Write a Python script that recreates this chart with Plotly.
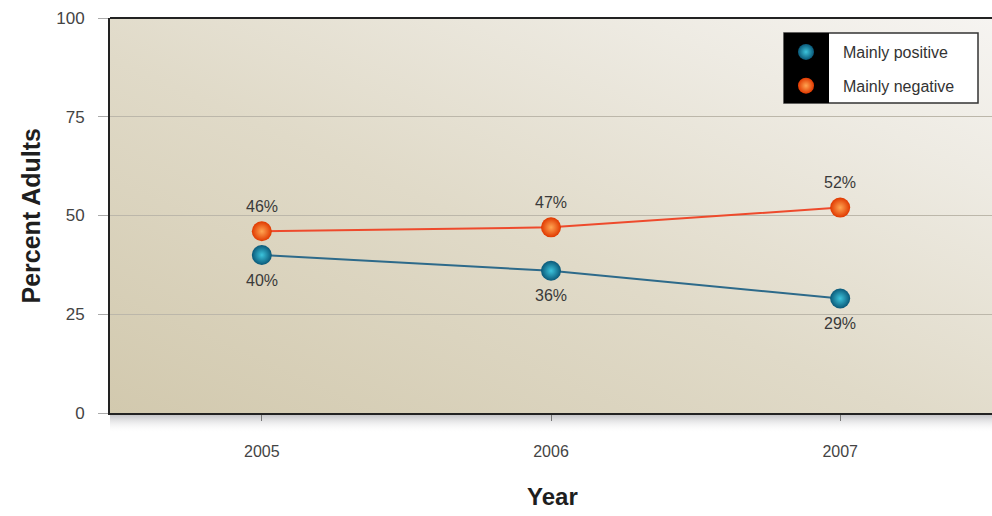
import base64
import plotly.graph_objects as go

years = [2005, 2006, 2007]
positive = [40, 36, 29]
negative = [46, 47, 52]
series_names = ["Mainly positive", "Mainly negative"]
y_ticks = [0, 25, 50, 75, 100]

def svg_uri(svg):
    return "data:image/svg+xml;base64," + base64.b64encode(svg.encode()).decode()

bg_svg = (
    '<svg xmlns="http://www.w3.org/2000/svg" width="880" height="395" preserveAspectRatio="none">'
    '<defs><linearGradient id="g" x1="0" y1="1" x2="1" y2="0">'
    '<stop offset="0" stop-color="#d2c9ae"/>'
    '<stop offset="0.45" stop-color="#e0dac8"/>'
    '<stop offset="0.8" stop-color="#eeebe3"/>'
    '<stop offset="1" stop-color="#f6f4f1"/>'
    '</linearGradient></defs>'
    '<rect width="880" height="395" fill="url(#g)"/></svg>'
)
shadow_svg = (
    '<svg xmlns="http://www.w3.org/2000/svg" width="880" height="20" preserveAspectRatio="none">'
    '<defs><linearGradient id="s" x1="0" y1="0" x2="0" y2="1">'
    '<stop offset="0" stop-color="#b8b8bc"/>'
    '<stop offset="1" stop-color="#ffffff" stop-opacity="0"/>'
    '</linearGradient></defs>'
    '<rect width="880" height="20" fill="url(#s)"/></svg>'
)

fig = go.Figure()

teal_edge, teal_center = "#0a5878", "#3cc4dc"
orange_edge, orange_center = "#e03800", "#ffa552"
label_font = dict(family="Arial, Liberation Sans", size=16, color="#3a3a3a")

fig.add_trace(go.Scatter(
    x=years, y=positive, mode="lines+markers", name=series_names[0],
    line=dict(color="#2d6a8a", width=2),
    marker=dict(size=20, color=teal_edge, gradient=dict(type="radial", color=teal_center)),
    showlegend=False, cliponaxis=False,
))
fig.add_trace(go.Scatter(
    x=years, y=negative, mode="lines+markers", name=series_names[1],
    line=dict(color="#ee4a2c", width=2),
    marker=dict(size=20, color=orange_edge, gradient=dict(type="radial", color=orange_center)),
    showlegend=False, cliponaxis=False,
))
# legend entries
fig.add_trace(go.Scatter(
    x=[None], y=[None], mode="markers", name=series_names[0], legendgroup="a",
    marker=dict(size=19, color=teal_edge, gradient=dict(type="radial", color=teal_center)),
))
fig.add_trace(go.Scatter(
    x=[None], y=[None], mode="markers", name=series_names[1], legendgroup="b",
    marker=dict(size=19, color=orange_edge, gradient=dict(type="radial", color=orange_center)),
))

annotations = []
for yr, v in zip(years, positive):
    annotations.append(dict(x=yr, y=v, xref="x", yref="y", text=f"{v}%", showarrow=False,
                            yshift=-25, font=label_font))
for yr, v in zip(years, negative):
    annotations.append(dict(x=yr, y=v, xref="x", yref="y", text=f"{v}%", showarrow=False,
                            yshift=25, font=label_font))

W, H = 992, 516
L, R, T, B = 110, 0, 18, 103
pw, ph = W - L - R, H - T - B

def px_x(x):
    return (x - L) / pw

def px_y(y):
    return (H - B - y) / ph

annotations += [
    dict(text="<b>Percent Adults</b>", xref="paper", yref="paper",
         x=px_x(30), y=0.5, textangle=-90, showarrow=False,
         font=dict(size=25, color="#1e1e1e"), xanchor="center", yanchor="middle"),
    dict(text="<b>Year</b>", xref="paper", yref="paper",
         x=px_x(552), y=px_y(496), showarrow=False,
         font=dict(size=24, color="#1e1e1e"), xanchor="center", yanchor="middle"),
]

fig.update_layout(
    width=W, height=H,
    margin=dict(l=L, r=R, t=T, b=B),
    paper_bgcolor="white",
    plot_bgcolor="rgba(0,0,0,0)",
    font=dict(family="Arial, Liberation Sans", color="#333333"),
    xaxis=dict(
        range=[years[0] - 0.525, years[-1] + 0.525], tickvals=years,
        showgrid=False, zeroline=False,
        showline=True, linecolor="#222222", linewidth=2,
        ticks="outside", ticklen=6, tickcolor="#777777",
        ticklabelstandoff=17,
        tickfont=dict(size=16, color="#444444"),
    ),
    yaxis=dict(
        range=[0, 100], tickvals=y_ticks,
        showgrid=True, gridcolor="#bcb7aa", gridwidth=1,
        zeroline=False,
        showline=True, linecolor="#222222", linewidth=2,
        ticks="outside", ticklen=10, tickcolor="#aaaaaa",
        ticklabelstandoff=10,
        tickfont=dict(size=17, color="#444444"),
    ),
    legend=dict(
        x=px_x(769), y=px_y(35), xanchor="left", yanchor="top",
        bgcolor="rgba(0,0,0,0)", borderwidth=0,
        font=dict(size=16, color="#333333", family="Arial, Liberation Sans"),
        tracegroupgap=10, itemsizing="trace", itemwidth=64,
    ),
    images=[
        dict(source=svg_uri(bg_svg), xref="paper", yref="paper", x=0, y=1,
             sizex=1, sizey=1, sizing="stretch", layer="below",
             xanchor="left", yanchor="top"),
        dict(source=svg_uri(shadow_svg), xref="paper", yref="paper", x=0, y=0,
             sizex=1, sizey=20 / ph, sizing="stretch", layer="below",
             xanchor="left", yanchor="top"),
    ],
    shapes=[
        dict(type="line", xref="paper", yref="paper", x0=0, x1=1, y0=1, y1=1,
             line=dict(color="#222222", width=2)),
        dict(type="rect", xref="paper", yref="paper",
             x0=px_x(784), x1=px_x(978), y0=px_y(103), y1=px_y(33),
             fillcolor="white", line=dict(color="#333333", width=1.5), layer="above"),
        dict(type="rect", xref="paper", yref="paper",
             x0=px_x(784), x1=px_x(829), y0=px_y(103), y1=px_y(33),
             fillcolor="black", line=dict(width=0), layer="above"),
    ],
    annotations=annotations,
)

fig.write_html("out.html", config={"displayModeBar": False},
               post_script="document.body.style.margin='0';document.body.style.overflow='hidden';")
